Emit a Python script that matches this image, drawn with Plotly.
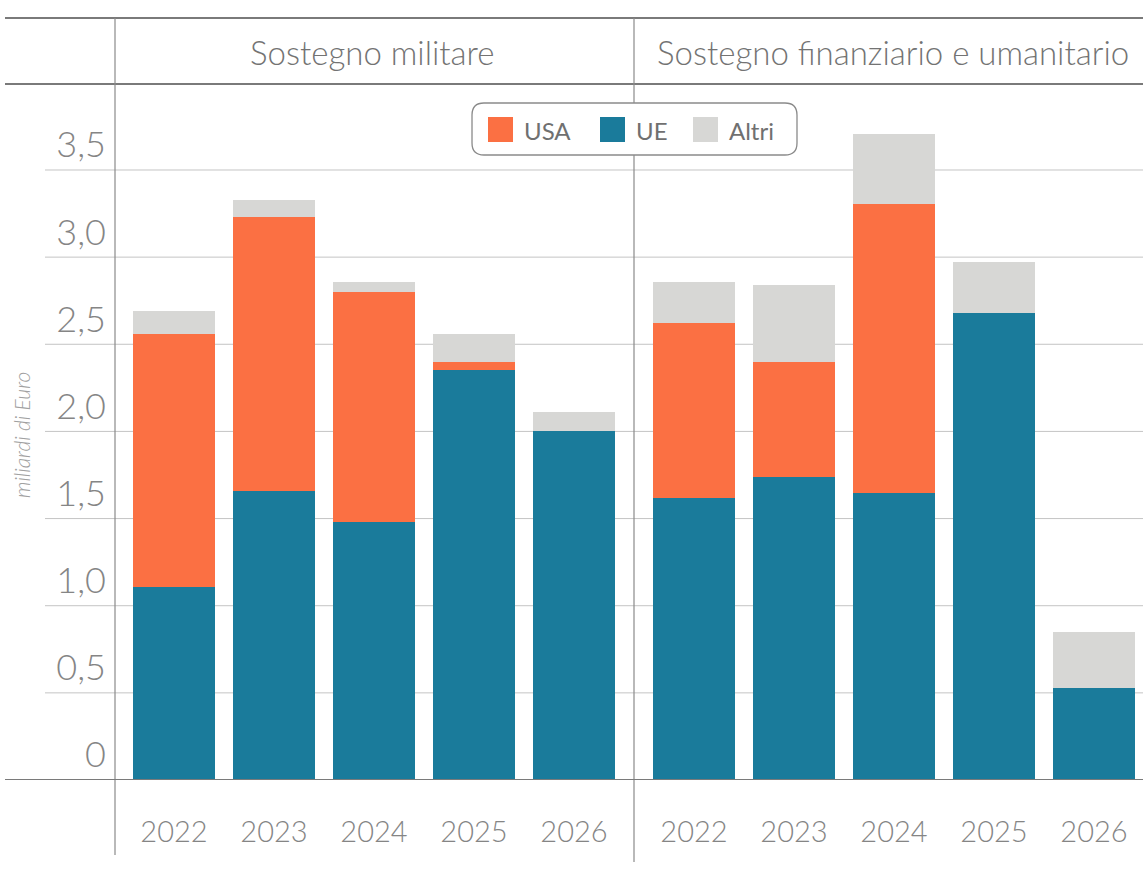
import plotly.graph_objects as go

# ---------------- data ----------------
years = ["2022", "2023", "2024", "2025", "2026"]
panels = ["Sostegno militare", "Sostegno finanziario e umanitario"]

ue_mil = [1.11, 1.66, 1.48, 2.35, 2.00]
usa_mil = [1.45, 1.57, 1.32, 0.05, 0.00]
altri_mil = [0.13, 0.10, 0.06, 0.16, 0.11]

ue_fin = [1.62, 1.74, 1.645, 2.68, 0.53]
usa_fin = [1.00, 0.66, 1.66, 0.00, 0.00]
altri_fin = [0.24, 0.44, 0.40, 0.29, 0.32]

series_names = ["USA", "UE", "Altri"]
y_tick_vals = [0, 0.5, 1.0, 1.5, 2.0, 2.5, 3.0, 3.5]
y_tick_labels = ["0", "0,5", "1,0", "1,5", "2,0", "2,5", "3,0", "3,5"]
y_title = "miliardi di Euro"

# ---------------- styling ----------------
C_USA = "#FB7043"
C_UE = "#1A7B9B"
C_ALTRI = "#D7D7D5"
colors = {"USA": C_USA, "UE": C_UE, "Altri": C_ALTRI}
TXT = "#858585"
FONT = "Lato"

W, H = 1143, 874
L, R, T, B = 115, 0, 84, 94
PW, PH = W - L - R, H - T - B
GAP = 1.2  # distance between the two panel groups (in bar slots)


def px(x):
    return (x - L) / PW


def py(y):
    return (H - B - y) / PH


x_mil = [i for i in range(len(years))]
x_fin = [len(years) - 1 + GAP + i for i in range(len(years))]
x_all = x_mil + x_fin
sep_x = (x_mil[-1] + x_fin[0]) / 2

fig = go.Figure()
stack = [("UE", ue_mil + ue_fin), ("USA", usa_mil + usa_fin), ("Altri", altri_mil + altri_fin)]
for name, vals in stack:
    fig.add_trace(go.Bar(
        x=x_all, y=vals, name=name, width=0.82,
        marker=dict(color=colors[name], line=dict(width=0)),
        showlegend=False,
    ))

shapes = []
# gridlines (extend left under tick labels)
for v in y_tick_vals[1:]:
    shapes.append(dict(type="line", xref="paper", yref="y", x0=px(45), x1=1, y0=v, y1=v,
                       line=dict(color="#C4C4C4", width=1), layer="below"))
# header lines
for yy in (18, 84):
    shapes.append(dict(type="line", xref="paper", yref="paper", x0=px(5), x1=1,
                       y0=py(yy), y1=py(yy), line=dict(color="#7A7A7A", width=2)))
# vertical lines
shapes.append(dict(type="line", xref="paper", yref="paper", x0=0, x1=0,
                   y0=py(18), y1=py(855), line=dict(color="#8A8A8A", width=1.2)))
shapes.append(dict(type="line", xref="x", yref="paper", x0=sep_x, x1=sep_x,
                   y0=py(18), y1=py(862), line=dict(color="#8A8A8A", width=1.2)))
# zero line
shapes.append(dict(type="line", xref="paper", yref="y", x0=px(5), x1=1, y0=0, y1=0,
                   line=dict(color="#7A7A7A", width=2)))


# custom legend box with rounded corners
def rrect(x0, y0, x1, y1, r):
    pts = [
        ("M", px(x0 + r), py(y0)), ("L", px(x1 - r), py(y0)),
        ("Q", px(x1), py(y0), px(x1), py(y0 + r)), ("L", px(x1), py(y1 - r)),
        ("Q", px(x1), py(y1), px(x1 - r), py(y1)), ("L", px(x0 + r), py(y1)),
        ("Q", px(x0), py(y1), px(x0), py(y1 - r)), ("L", px(x0), py(y0 + r)),
        ("Q", px(x0), py(y0), px(x0 + r), py(y0)),
    ]
    s = ""
    for p in pts:
        if p[0] == "Q":
            s += f"Q{p[1]:.5f},{p[2]:.5f} {p[3]:.5f},{p[4]:.5f} "
        else:
            s += f"{p[0]}{p[1]:.5f},{p[2]:.5f} "
    return s + "Z"


shapes.append(dict(type="path", xref="paper", yref="paper", path=rrect(472, 103, 797, 155, 12),
                   fillcolor="white", line=dict(color="#8A8A8A", width=1.3)))

annotations = []
leg_x = {"USA": 488, "UE": 600, "Altri": 693}
for name in series_names:
    x0 = leg_x[name]
    shapes.append(dict(type="rect", xref="paper", yref="paper", x0=px(x0), x1=px(x0 + 25),
                       y0=py(117), y1=py(142), fillcolor=colors[name], line=dict(width=0)))
    annotations.append(dict(xref="paper", yref="paper", x=px(x0 + 34), y=py(130), text=name,
                            showarrow=False, xanchor="left", yanchor="middle",
                            font=dict(family=FONT, size=24, color="#707070")))

# panel headers
annotations.append(dict(xref="paper", yref="paper", x=px((115 + 634) / 2 - 2), y=py(52), text=panels[0],
                        showarrow=False, xanchor="center", yanchor="middle",
                        font=dict(family=FONT, size=33, color="#737373", weight=300)))
annotations.append(dict(xref="paper", yref="paper", x=px(893), y=py(52), text=panels[1],
                        showarrow=False, xanchor="center", yanchor="middle",
                        font=dict(family=FONT, size=33, color="#737373", weight=300)))
# y title
annotations.append(dict(xref="paper", yref="paper", x=px(21), y=py(435), text=y_title,
                        showarrow=False, textangle=-90, xanchor="center", yanchor="middle",
                        font=dict(family=FONT, size=21, color="#A0A0A0", style="italic", weight=300)))

fig.update_layout(
    width=W, height=H,
    margin=dict(l=L, r=R, t=T, b=B),
    paper_bgcolor="white", plot_bgcolor="white",
    barmode="stack", bargap=0,
    showlegend=False,
    shapes=shapes, annotations=annotations,
    font=dict(family=FONT, color=TXT),
)
fig.update_xaxes(
    range=[-0.59, x_fin[-1] + 0.49], tickvals=x_all, ticktext=years + years,
    showgrid=False, zeroline=False, showline=False, ticks="",
    ticklabelstandoff=32,
    tickfont=dict(family=FONT, size=29, color=TXT, weight=300),
    fixedrange=True,
)
fig.update_yaxes(
    range=[0, (H - B - T) / 174.29], tickvals=y_tick_vals, ticktext=y_tick_labels,
    showgrid=False, zeroline=False, showline=False, ticks="",
    ticklabelposition="outside top", ticklabelstandoff=8,
    tickfont=dict(family=FONT, size=36, color=TXT, weight=300),
    fixedrange=True,
)

fig.write_html("out.html", config={"displayModeBar": False},
               post_script="document.body.style.margin='0';document.body.style.overflow='hidden';")
